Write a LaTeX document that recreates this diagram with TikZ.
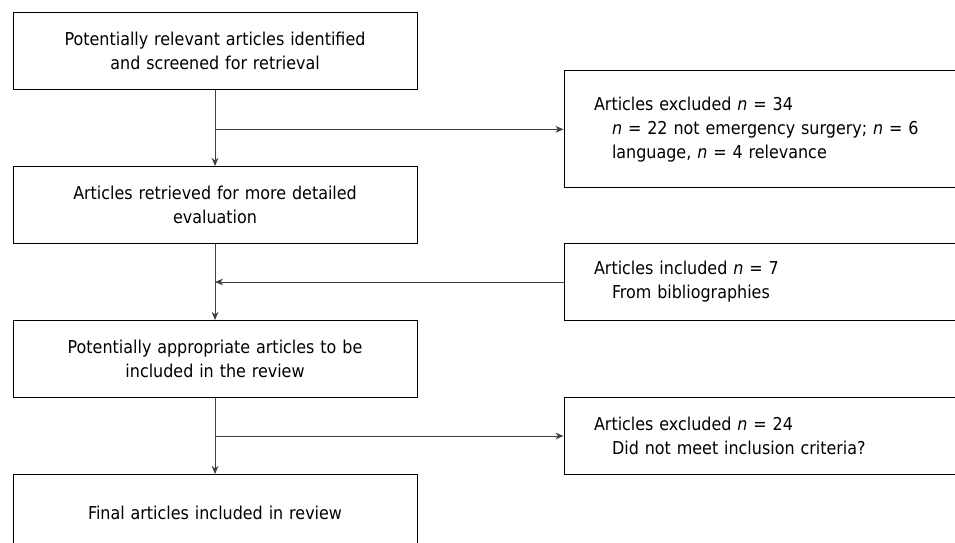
\documentclass[tikz,border=0pt]{standalone}
\usepackage{fontspec}
\setmainfont{DejaVu Sans Condensed}
\usetikzlibrary{positioning,calc,arrows.meta}
\tikzset{
  stage/.style = {draw, rectangle, align=center, text width=280pt,
                  minimum width=303pt, minimum height=57.75pt,
                  font=\fontsize{13.3}{18}\selectfont},
  side/.style  = {draw, rectangle, align=left, text width=270pt,
                  inner xsep=22.5pt, minimum height=57.75pt,
                  font=\fontsize{13.3}{18}\selectfont},
  link/.style  = {-{Stealth[length=6pt,width=5pt,inset=1.8pt]}, draw=black!75}
}
\newcommand{\nn}{\textit{n}}
\newcommand{\hang}{\hspace*{13.5pt}}

\begin{document}
\begin{tikzpicture}[node distance=57pt and 109.5pt, line width=0.75pt]
\useasboundingbox (0,0) rectangle (716.25pt,-406.5pt);

% main column
\node[stage, anchor=north west] (found) at (9.4pt,-9pt)
  {Potentially relevant articles identified\\ and screened for retrieval};
\node[stage, below=of found] (retrieved)
  {Articles retrieved for more detailed\\ evaluation};
\node[stage, below=of retrieved] (appropriate)
  {Potentially appropriate articles to be\\ included in the review};
\node[stage, below=of appropriate] (final) {Final articles included in review};

% side boxes, half way between two stages
\coordinate (m1) at ($(found.east)!0.5!(retrieved.east)$);
\coordinate (m2) at ($(retrieved.east)!0.5!(appropriate.east)$);
\coordinate (m3) at ($(appropriate.east)!0.5!(final.east)$);

\node[side, right=of m1, minimum height=87.75pt, yshift=-1pt] (excluded)
  {Articles excluded \nn{} = 34\\
   \hang\nn{} = 22 not emergency surgery; \nn{} = 6\\
   \hang language, \nn{} = 4 relevance};
\node[side, right=of m2] (biblio)
  {Articles included \nn{} = 7\\ \hang From bibliographies};
\node[side, right=of m3] (notmet)
  {Articles excluded \nn{} = 24\\ \hang Did not meet inclusion criteria?};

\draw[link] (found) -- (retrieved);
\draw[link] (retrieved) -- (appropriate);
\draw[link] (appropriate) -- (final);

\draw[link] (found.south |- excluded.west) -- (excluded.west);
\draw[link] (biblio.west) -- (retrieved.south |- biblio.west);
\draw[link] (appropriate.south |- notmet.west) -- (notmet.west);
\end{tikzpicture}
\end{document}
